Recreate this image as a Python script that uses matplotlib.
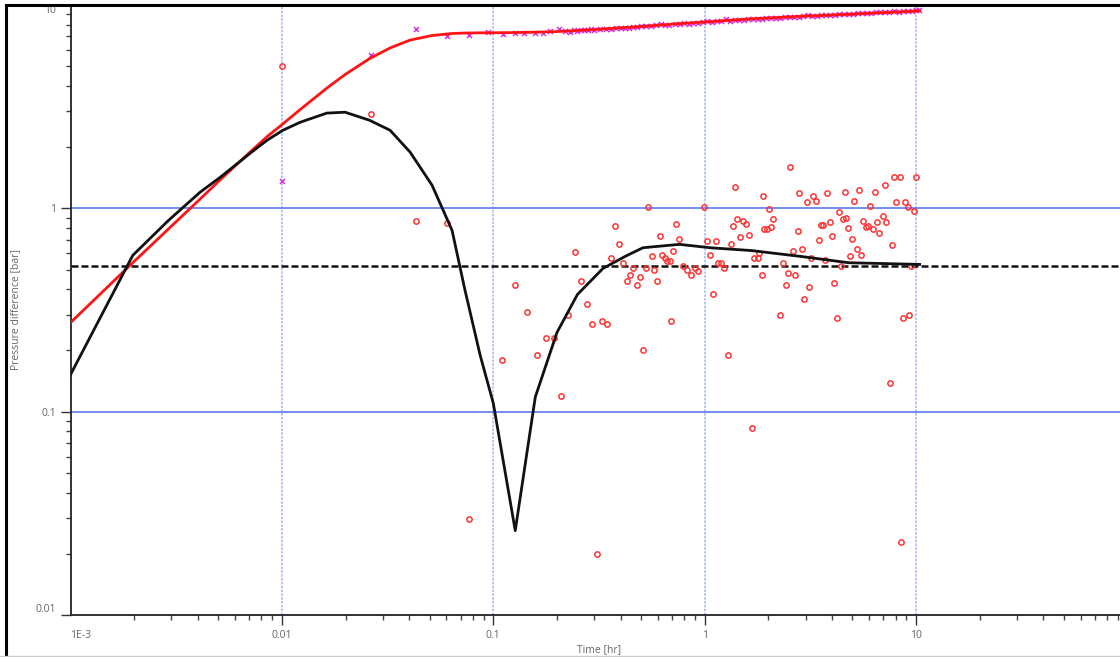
import matplotlib.pyplot as plt
from matplotlib.lines import Line2D
from matplotlib.ticker import FixedLocator, LogLocator, NullFormatter

plt.rcParams['font.family'] = ['Open Sans', 'DejaVu Sans']

# model curves (pressure change and derivative), same time base
t_model = [0.001, 0.00197, 0.0029, 0.0041, 0.0051, 0.0071, 0.0085, 0.0101, 0.0122, 0.0163,
           0.0199, 0.026, 0.0325, 0.0404, 0.0513, 0.0638, 0.0733, 0.0866, 0.1, 0.127,
           0.158, 0.2, 0.25, 0.33, 0.42, 0.51, 0.76, 1.06, 1.66, 2.85,
           4.8, 10.4]
p_model = [0.274, 0.54, 0.79, 1.11, 1.38, 1.9, 2.25, 2.6, 3.06, 3.9,
           4.55, 5.45, 6.15, 6.72, 7.08, 7.24, 7.28, 7.3, 7.3, 7.32,
           7.35, 7.4, 7.5, 7.62, 7.75, 7.85, 8.1, 8.28, 8.55, 8.8,
           9.0, 9.35]
dp_model = [0.152, 0.587, 0.87, 1.2, 1.42, 1.87, 2.16, 2.42, 2.65, 2.94,
            2.97, 2.71, 2.42, 1.89, 1.3, 0.78, 0.40, 0.19, 0.11, 0.026,
            0.118, 0.245, 0.377, 0.506, 0.58, 0.64, 0.665, 0.64, 0.62, 0.58,
            0.54, 0.53]

# measured pressure change (x markers)
p_t = [0.01, 0.0263, 0.043, 0.0604, 0.0767, 0.094, 0.111, 0.126, 0.14, 0.157, 0.172, 0.185, 0.204, 0.218,
       0.23, 0.24, 0.25, 0.26, 0.27, 0.28, 0.29, 0.30,
       0.32, 0.34, 0.36, 0.38, 0.40, 0.42, 0.44, 0.46, 0.48, 0.50,
       0.53, 0.56, 0.59, 0.62, 0.65, 0.68,
       0.72, 0.76, 0.80, 0.84, 0.88,
       0.93, 0.98, 1.03, 1.08,
       1.14, 1.20, 1.26, 1.32, 1.39, 1.46, 1.53, 1.61, 1.69, 1.78, 1.87, 1.96,
       2.06, 2.17, 2.28, 2.40, 2.52, 2.65, 2.78, 2.92,
       3.07, 3.23, 3.39, 3.56, 3.74, 3.93,
       4.13, 4.34, 4.56, 4.79,
       5.03, 5.29, 5.56, 5.84,
       6.14, 6.45, 6.78,
       7.12, 7.48, 7.86,
       8.26, 8.68,
       9.12, 9.58,
       10.0, 10.3]
p_v = [1.37, 5.7, 7.6, 7.05, 7.1, 7.35, 7.2, 7.3, 7.3, 7.3, 7.3, 7.45, 7.65, 7.45,
       7.4, 7.5, 7.45, 7.5, 7.55, 7.5, 7.6, 7.55,
       7.6, 7.65, 7.6, 7.7, 7.7, 7.75, 7.7, 7.8, 7.8, 7.85,
       7.9, 7.85, 7.95, 8.05, 7.95, 8.0,
       8.1, 8.05, 8.15, 8.1, 8.2,
       8.2, 8.25, 8.3, 8.25,
       8.3, 8.35, 8.5, 8.35, 8.4, 8.45, 8.4, 8.5, 8.5, 8.55, 8.55, 8.6,
       8.6, 8.65, 8.6, 8.7, 8.7, 8.75, 8.7, 8.8,
       8.95, 8.8, 8.85, 8.9, 8.9, 8.95,
       8.95, 9.0, 9.0, 9.05,
       9.0, 9.1, 9.1, 9.15,
       9.1, 9.2, 9.25,
       9.2, 9.25, 9.3,
       9.25, 9.35,
       9.3, 9.35,
       9.4, 9.4]

# measured derivative (open circles)
d_t = [0.01, 0.0263, 0.0432, 0.0604, 0.0767,
       0.110, 0.127, 0.144, 0.161, 0.178, 0.194, 0.209, 0.225, 0.243, 0.260,
       0.277, 0.293, 0.31, 0.327, 0.345, 0.361, 0.377, 0.394, 0.411, 0.430,
       0.444, 0.458, 0.479, 0.494, 0.511, 0.528, 0.539, 0.564, 0.577, 0.596,
       0.615, 0.628, 0.649, 0.664, 0.686, 0.694, 0.708, 0.733, 0.757, 0.791,
       0.826, 0.863, 0.902, 0.931, 0.993, 1.03, 1.06, 1.10, 1.13, 1.16,
       1.19, 1.23, 1.29, 1.33, 1.36, 1.39, 1.42, 1.47, 1.52, 1.57,
       1.62, 1.67, 1.71, 1.79, 1.81, 1.87, 1.89, 1.91, 1.97, 2.01,
       2.06, 2.10, 2.27, 2.35, 2.42, 2.48, 2.54, 2.62, 2.67, 2.76,
       2.80, 2.88, 2.95, 3.05, 3.11, 3.18, 3.25, 3.36, 3.47, 3.55,
       3.63, 3.71, 3.78, 3.92, 4.00, 4.09, 4.23, 4.32, 4.42, 4.51,
       4.60, 4.66, 4.76, 4.87, 4.98, 5.09, 5.26, 5.35, 5.50, 5.62,
       5.80, 5.93, 6.06, 6.26, 6.40, 6.54, 6.68, 6.98, 7.10, 7.21,
       7.53, 7.71, 7.90, 8.05, 8.40, 8.50, 8.69, 8.87, 9.16, 9.27,
       9.48, 9.79, 10.0]
d_v = [5.0, 2.9, 0.87, 0.85, 0.0297,
       0.18, 0.42, 0.31, 0.19, 0.23, 0.23, 0.119, 0.30, 0.61, 0.44,
       0.34, 0.27, 0.020, 0.28, 0.27, 0.57, 0.82, 0.67, 0.54, 0.44,
       0.47, 0.51, 0.42, 0.46, 0.20, 0.51, 1.01, 0.58, 0.50, 0.44,
       0.73, 0.59, 0.57, 0.55, 0.55, 0.28, 0.62, 0.84, 0.71, 0.52,
       0.50, 0.47, 0.51, 0.49, 1.01, 0.69, 0.59, 0.38, 0.69, 0.54,
       0.54, 0.51, 0.19, 0.665, 0.82, 1.27, 0.89, 0.72, 0.87, 0.84,
       0.74, 0.083, 0.57, 0.57, 0.60, 0.47, 1.15, 0.79, 0.79, 0.99,
       0.81, 0.89, 0.30, 0.54, 0.42, 0.48, 1.59, 0.62, 0.47, 0.77,
       1.19, 0.63, 0.36, 1.07, 0.41, 0.57, 1.15, 1.09, 0.70, 0.83,
       0.83, 0.56, 1.19, 0.86, 0.73, 0.43, 0.29, 0.955, 0.52, 0.89,
       1.2, 0.90, 0.80, 0.58, 0.71, 1.09, 0.63, 1.23, 0.59, 0.87,
       0.81, 0.82, 1.03, 0.79, 1.2, 0.86, 0.76, 0.92, 1.3, 0.86,
       0.139, 0.66, 1.42, 1.07, 1.42, 0.0229, 0.29, 1.07, 1.01, 0.30,
       0.52, 0.97, 1.42]

stab_level = 0.52

x_ticks = [1e-3, 1e-2, 1e-1, 1, 10]
x_labels = ['1E-3', '0.01', '0.1', '1', '10']
y_ticks = [0.01, 0.1, 1, 10]
y_labels = ['0.01', '0.1', '1', '10']

W, H = 1120, 657
fig = plt.figure(figsize=(W / 100, H / 100), dpi=100)
ax = fig.add_axes([70.5 / W, 42 / H, 1057 / W, 610 / H])
ax.set_xscale('log')
ax.set_yscale('log')
ax.set_xlim(1e-3, 100)
ax.set_ylim(0.01, 10)

# grid: dotted light blue verticals, solid blue horizontals
for xv in x_ticks[1:]:
    ax.axvline(xv, color='#a9bbf3', lw=1.2, ls=(0, (1.5, 0.8)), zorder=1)
for yv in [0.1, 1]:
    ax.axhline(yv, color='#5a78ee', lw=1.2, zorder=1)

ax.axhline(stab_level, color='#111111', lw=1.8, ls=(0, (2.8, 1.2)), zorder=3)

ax.plot(d_t, d_v, 'o', mfc='none', mec='#ff3333', ms=3.8, mew=1.1, zorder=4, clip_on=False)
ax.plot(p_t, p_v, 'x', color='#dd30e0', ms=3.6, mew=1.1, zorder=4)
ax.plot(t_model, p_model, color='#ff1414', lw=2, zorder=5)
ax.plot(t_model, dp_model, color='#111111', lw=2, zorder=5)

for s in ['top', 'right']:
    ax.spines[s].set_visible(False)
for s in ['left', 'bottom']:
    ax.spines[s].set_color('#222222')
    ax.spines[s].set_linewidth(1.3)

ax.xaxis.set_major_locator(FixedLocator(x_ticks))
ax.set_xticklabels(x_labels)
ax.yaxis.set_major_locator(FixedLocator(y_ticks))
ax.set_yticklabels(y_labels)
ax.xaxis.set_minor_locator(LogLocator(base=10, subs=range(2, 10), numticks=20))
ax.yaxis.set_minor_locator(LogLocator(base=10, subs=range(2, 10), numticks=20))
ax.xaxis.set_minor_formatter(NullFormatter())
ax.yaxis.set_minor_formatter(NullFormatter())
ax.tick_params(which='major', length=7.5, width=1, color='#333333',
               labelsize=7.5, labelcolor='#666666')
ax.tick_params(axis='x', which='major', pad=3)
ax.tick_params(axis='y', which='major', pad=3)
ax.tick_params(which='minor', length=3.5, width=1, color='#444444')

ax.xaxis.get_major_ticks()[0].tick1line.set_visible(False)
ax.get_xticklabels()[0].set_ha('left')
ylabs = ax.get_yticklabels()
ylabs[0].set_va('bottom')
ylabs[-1].set_va('top')

ax.set_xlabel('Time [hr]', fontsize=7.5, color='#666666')
ax.set_ylabel('Pressure difference [bar]', fontsize=7.5, color='#666666')
ax.xaxis.set_label_coords(0.5, -0.057)
ax.xaxis.label.set_va('center')
ax.yaxis.set_label_coords(-0.0515, 0.5)
ax.yaxis.label.set_va('center')

# window frame
fig.add_artist(Line2D([6 / W, 6 / W], [0, 1 - 5 / H], color='black', lw=2.2))
fig.add_artist(Line2D([6 / W, 1], [1 - 5 / H, 1 - 5 / H], color='black', lw=2.2))
fig.add_artist(Line2D([0, 1], [1.5 / H, 1.5 / H], color='#cccccc', lw=1))

fig.savefig('out.png', dpi=100)
